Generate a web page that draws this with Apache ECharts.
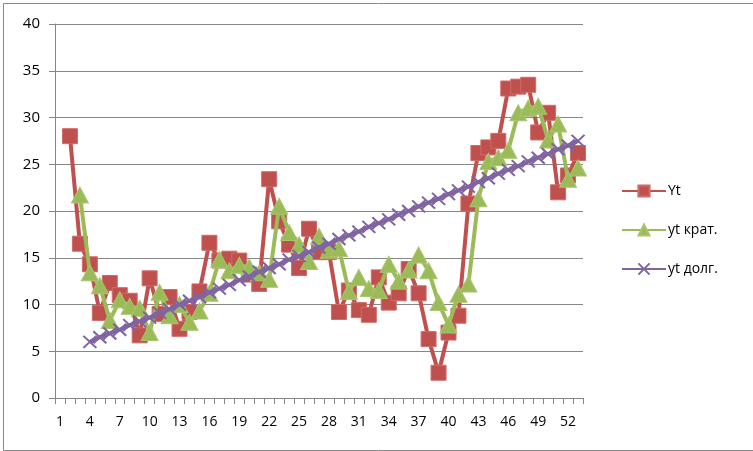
<!DOCTYPE html>
<html>
<head>
<meta charset="utf-8">
<script src="https://cdn.jsdelivr.net/npm/echarts@6/dist/echarts.min.js"></script>
<style>
html,body{margin:0;padding:0;background:#fff;}
#c{width:753px;height:451px;}
</style>
</head>
<body>
<div id="c"></div>
<script>
// categories 1..53
const categories = [];
for (let i = 1; i <= 53; i++) categories.push(String(i));

const seriesNames = ['Yt', 'yt крат.', 'yt долг.'];

// Yt (starts at category 2)
const yt = [null,
  28.0, 16.5, 14.3, 9.1, 12.3, 11.0, 10.4, 6.7, 12.8, 9.0,
  10.8, 7.4, 9.2, 11.4, 16.6, 14.7, 14.9, 14.7, 13.2, 12.2,
  23.4, 18.9, 16.4, 13.9, 18.1, 15.6, 15.6, 9.2, 11.5, 9.4,
  8.9, 12.9, 10.2, 11.2, 13.8, 11.2, 6.3, 2.7, 7.0, 8.8,
  20.8, 26.2, 26.8, 27.5, 33.1, 33.3, 33.5, 28.4, 30.5, 22.0,
  23.8, 26.2];

// yt крат. (starts at category 3)
const ytShort = [null, null,
  21.7, 13.4, 12.0, 8.3, 10.5, 9.8, 9.6, 7.0, 11.3, 8.8,
  10.0, 8.1, 9.3, 11.2, 14.8, 13.6, 14.2, 14.0, 13.4, 12.7,
  20.5, 17.7, 16.4, 14.6, 17.3, 15.8, 16.0, 11.4, 12.9, 11.7,
  11.5, 14.3, 12.5, 13.7, 15.3, 13.6, 10.2, 7.8, 11.1, 12.2,
  21.3, 25.3, 25.7, 26.5, 30.5, 31.0, 31.2, 27.6, 29.3, 23.4,
  24.6];

// yt долг. (starts at category 4)
const ytLong = [null, null, null,
  6.0, 6.5, 6.9, 7.3, 7.8, 8.2, 8.6, 9.1, 9.5, 10.0,
  10.4, 10.8, 11.3, 11.7, 12.1, 12.6, 13.0, 13.5, 13.9, 14.3,
  14.8, 15.2, 15.6, 16.1, 16.5, 17.0, 17.4, 17.8, 18.3, 18.7,
  19.1, 19.6, 20.0, 20.5, 20.9, 21.3, 21.8, 22.2, 22.6, 23.1,
  23.5, 24.0, 24.4, 24.8, 25.3, 25.7, 26.1, 26.6, 27.0, 27.5];

const yTicks = {min: 0, max: 40, interval: 5};

const FONT = 'Open Sans';
const RED = '#C0504D', GREEN = '#9BBB59', PURPLE = '#8064A2', GRID = '#878787';

const chart = echarts.init(document.getElementById('c'), null, {renderer: 'canvas'});
chart.setOption({
  animation: false,
  backgroundColor: '#fff',
  textStyle: {fontFamily: FONT},
  graphic: [{
    type: 'rect', left: 1, top: 1, silent: true,
    shape: {x: 0, y: 0, width: 750, height: 447},
    style: {fill: 'none', stroke: '#8a8a8a', lineWidth: 1}
  }],
  grid: {left: 55, right: 170, top: 24, bottom: 53, containLabel: false},
  legend: {
    orient: 'vertical', left: 616, top: 179,
    itemWidth: 44, itemHeight: 14, itemGap: 25,
    textStyle: {fontFamily: FONT, fontSize: 14, color: '#000', padding: [0, 0, 0, -3]},
    data: seriesNames
  },
  xAxis: {
    type: 'category', data: categories, boundaryGap: true,
    axisLine: {lineStyle: {color: GRID, width: 1}},
    axisTick: {show: true, interval: 0, length: 6, lineStyle: {color: GRID}},
    axisLabel: {interval: 2, margin: 17, fontSize: 14, color: '#000', fontFamily: FONT},
    splitLine: {show: false}
  },
  yAxis: {
    type: 'value', min: yTicks.min, max: yTicks.max, interval: yTicks.interval,
    axisLine: {show: true, lineStyle: {color: GRID, width: 1}},
    axisTick: {show: true, length: 6, lineStyle: {color: GRID}},
    axisLabel: {margin: 15, fontSize: 15, color: '#000', fontFamily: FONT},
    splitLine: {show: true, lineStyle: {color: GRID, width: 1}}
  },
  series: [
    {
      name: seriesNames[0], type: 'line', data: yt,
      symbol: 'rect', symbolSize: 15, showAllSymbol: true,
      lineStyle: {color: RED, width: 4},
      itemStyle: {color: RED, borderColor: '#cf6b68', borderWidth: 1},
      z: 3
    },
    {
      name: seriesNames[1], type: 'line', data: ytShort,
      symbol: 'triangle', symbolSize: [17, 16], showAllSymbol: true,
      lineStyle: {color: GREEN, width: 4},
      itemStyle: {color: GREEN, borderColor: '#a9c56f', borderWidth: 1},
      z: 4
    },
    {
      name: seriesNames[2], type: 'line', data: ytLong,
      symbol: 'path://M0,0L12,12M12,0L0,12', symbolSize: [13, 12], showAllSymbol: true,
      lineStyle: {color: PURPLE, width: 4},
      itemStyle: {color: PURPLE, borderColor: PURPLE, borderWidth: 2},
      z: 5
    }
  ]
});
</script>
</body>
</html>
